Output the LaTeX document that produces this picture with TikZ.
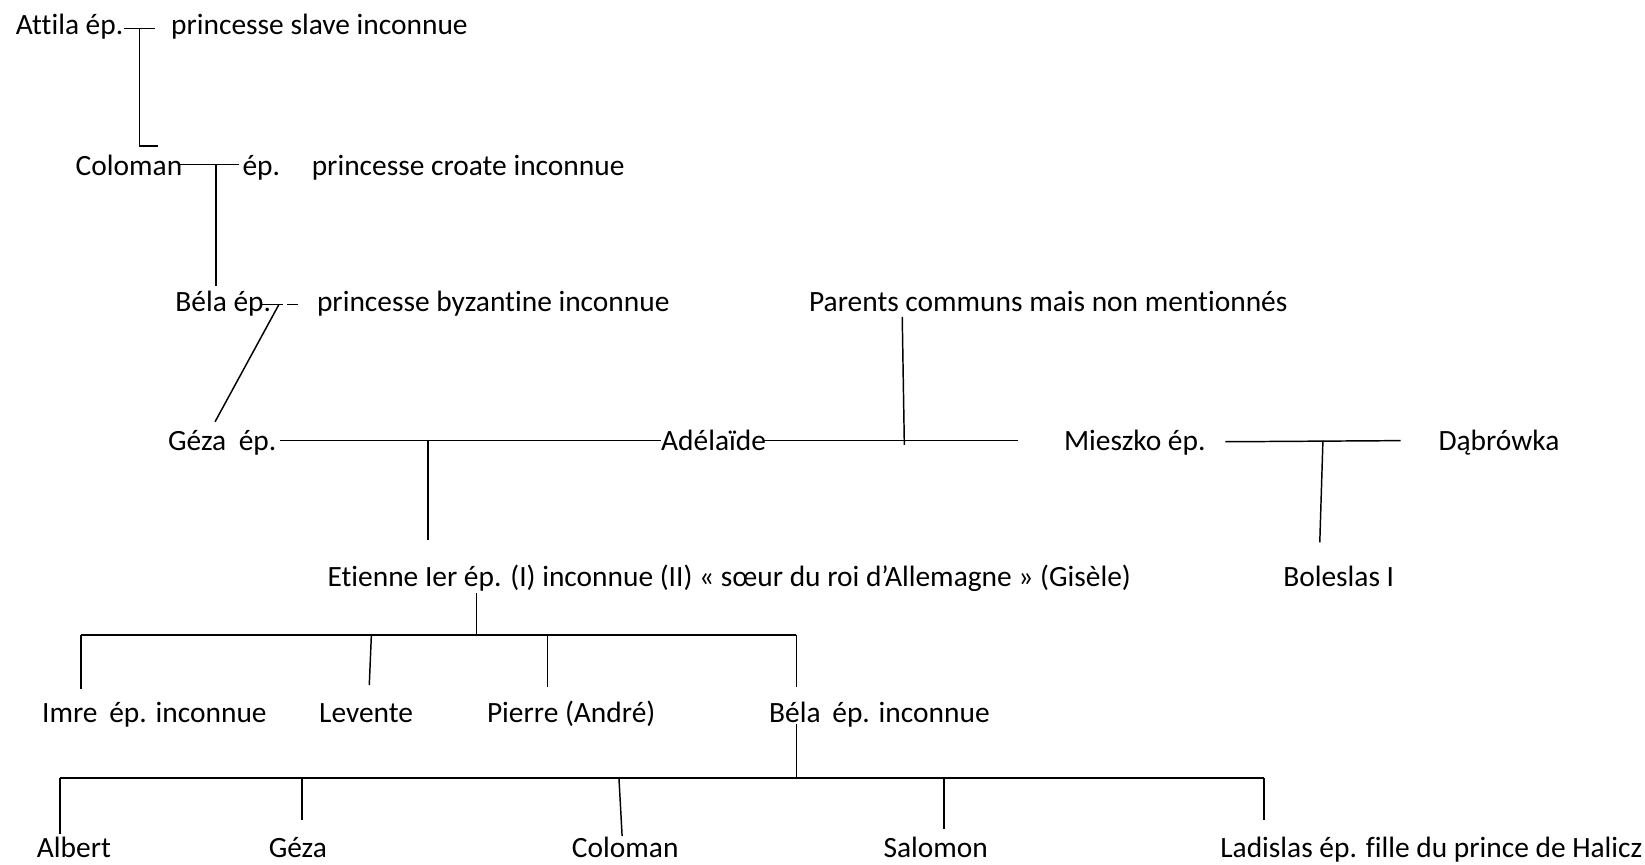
\documentclass[tikz,border=0pt]{standalone}
\usepackage{fontspec}
\setmainfont{Carlito}[Ligatures=CommonOff]
\begin{document}
\begin{tikzpicture}[x=1pt,y=-1pt,
  lbl/.style={anchor=base west,inner sep=0pt,font=\fontsize{28.05}{30}\selectfont},
  ln/.style={line width=1.4pt},
  bar/.style={line width=2pt}]
\useasboundingbox (0,0) rectangle (1568,824);
% texts
\node[lbl] (attila) at (15,33) {Attila ép.};
\node[lbl] (slave) at (163,33) {princesse slave inconnue};
\node[lbl] (coloman) at (72,167) {Coloman};
\node[lbl] (colep) at (231,167) {ép.};
\node[lbl] (croate) at (297,167) {princesse croate inconnue};
\node[lbl] (bela) at (167,297) {Béla ép.};
\node[lbl] (byz) at (302,297) {princesse byzantine inconnue};
\node[lbl] (parents) at (771,297) {Parents communs mais non mentionnés};
\node[lbl] (geza) at (160,429) {Géza\hspace{0.2em} ép.};
\node[lbl] (adel) at (630,429) {Adélaïde};
\node[lbl] (mieszko) at (1014,429) {Mieszko ép.};
\node[lbl] (dab) at (1371,429) {Dąbrówka};
\node[lbl] (etienne) at (312,559) {Etienne Ier ép. (I) inconnue (II) « sœur du roi d’Allemagne » (Gisèle)};
\node[lbl] (boleslas) at (1223,559) {Boleslas I};
\node[lbl] (imre) at (40,689) {Imre\hspace{0.17em} ép. inconnue};
\node[lbl] (levente) at (304,689) {Levente};
\node[lbl] (pierre) at (464,689) {Pierre (André)};
\node[lbl] (bela2) at (733,689) {Béla\hspace{0.17em} ép. inconnue};
\node[lbl] (albert) at (35,817) {Albert};
\node[lbl] (geza2) at (256,817) {Géza};
\node[lbl] (coloman2) at (545,817) {Coloman};
\node[lbl] (salomon) at (842,817) {Salomon};
\node[lbl] (ladislas) at (1163,817) {Ladislas ép. fille du prince de Halicz};
% junction coordinates
\coordinate (a1) at (118,27); \coordinate (a2) at (148,27); \coordinate (a3) at (133,27);
\coordinate (a4) at (133,139); \coordinate (a5) at (151,139);
\coordinate (c1) at (172,157); \coordinate (c2) at (228,157); \coordinate (c3) at (206,157);
\coordinate (c4) at (206,273);
\coordinate (b1) at (248,290); \coordinate (b2) at (270,290); \coordinate (b3) at (274,290);
\coordinate (b4) at (284,290); \coordinate (b5) at (266,290); \coordinate (b6) at (205,402);
\coordinate (p1) at (860,302); \coordinate (p2) at (862,424);
\coordinate (g1) at (267,420); \coordinate (g2) at (630,420); \coordinate (g3) at (408,420);
\coordinate (g4) at (408,515);
\coordinate (d1) at (728,420); \coordinate (d2) at (970,420);
\coordinate (m1) at (1168,421); \coordinate (m2) at (1182,421); \coordinate (m3) at (1335,420);
\coordinate (m4) at (1261,420); \coordinate (m5) at (1258,517);
\coordinate (e1) at (454,565); \coordinate (e2) at (454,605);
\coordinate (e3) at (77,605); \coordinate (e4) at (759,605);
\coordinate (e5) at (77,657); \coordinate (e6) at (354,605); \coordinate (e7) at (352,653);
\coordinate (e8) at (522,605); \coordinate (e9) at (522,655); \coordinate (e10) at (759,655);
\coordinate (f1) at (759,690); \coordinate (f2) at (759,742);
\coordinate (f3) at (57,742); \coordinate (f4) at (1205,742);
\coordinate (f5) at (57,795); \coordinate (f6) at (288,742); \coordinate (f7) at (288,782);
\coordinate (f8) at (590,742); \coordinate (f9) at (593,797);
\coordinate (f10) at (900,742); \coordinate (f11) at (900,790); \coordinate (f12) at (1205,782);
% connectors
\draw[ln] (a1) -- (a2);
\draw[ln] (a3) -- (a4) -- (a5);
\draw[ln] (c1) -- (c2);
\draw[ln] (c3) -- (c4);
\draw[ln] (b1) -- (b2);
\draw[ln] (b3) -- (b4);
\draw[ln] (b5) -- (b6);
\draw[ln] (p1) -- (p2);
\draw[ln] (g1) -- (g2);
\draw[ln] (g3) -- (g4);
\draw[ln] (d1) -- (d2);
\draw[ln] (m1) -- (m2) -- (m3);
\draw[ln] (m4) -- (m5);
\draw[ln] (e1) -- (e2);
\draw[bar] (e3) -- (e4);
\draw[ln] (e3) -- (e5);
\draw[ln] (e6) -- (e7);
\draw[ln] (e8) -- (e9);
\draw[ln] (e4) -- (e10);
\draw[ln] (f1) -- (f2);
\draw[bar] (f3) -- (f4);
\draw[ln] (f3) -- (f5);
\draw[ln] (f6) -- (f7);
\draw[ln] (f8) -- (f9);
\draw[ln] (f10) -- (f11);
\draw[ln] (f4) -- (f12);
\end{tikzpicture}
\end{document}
